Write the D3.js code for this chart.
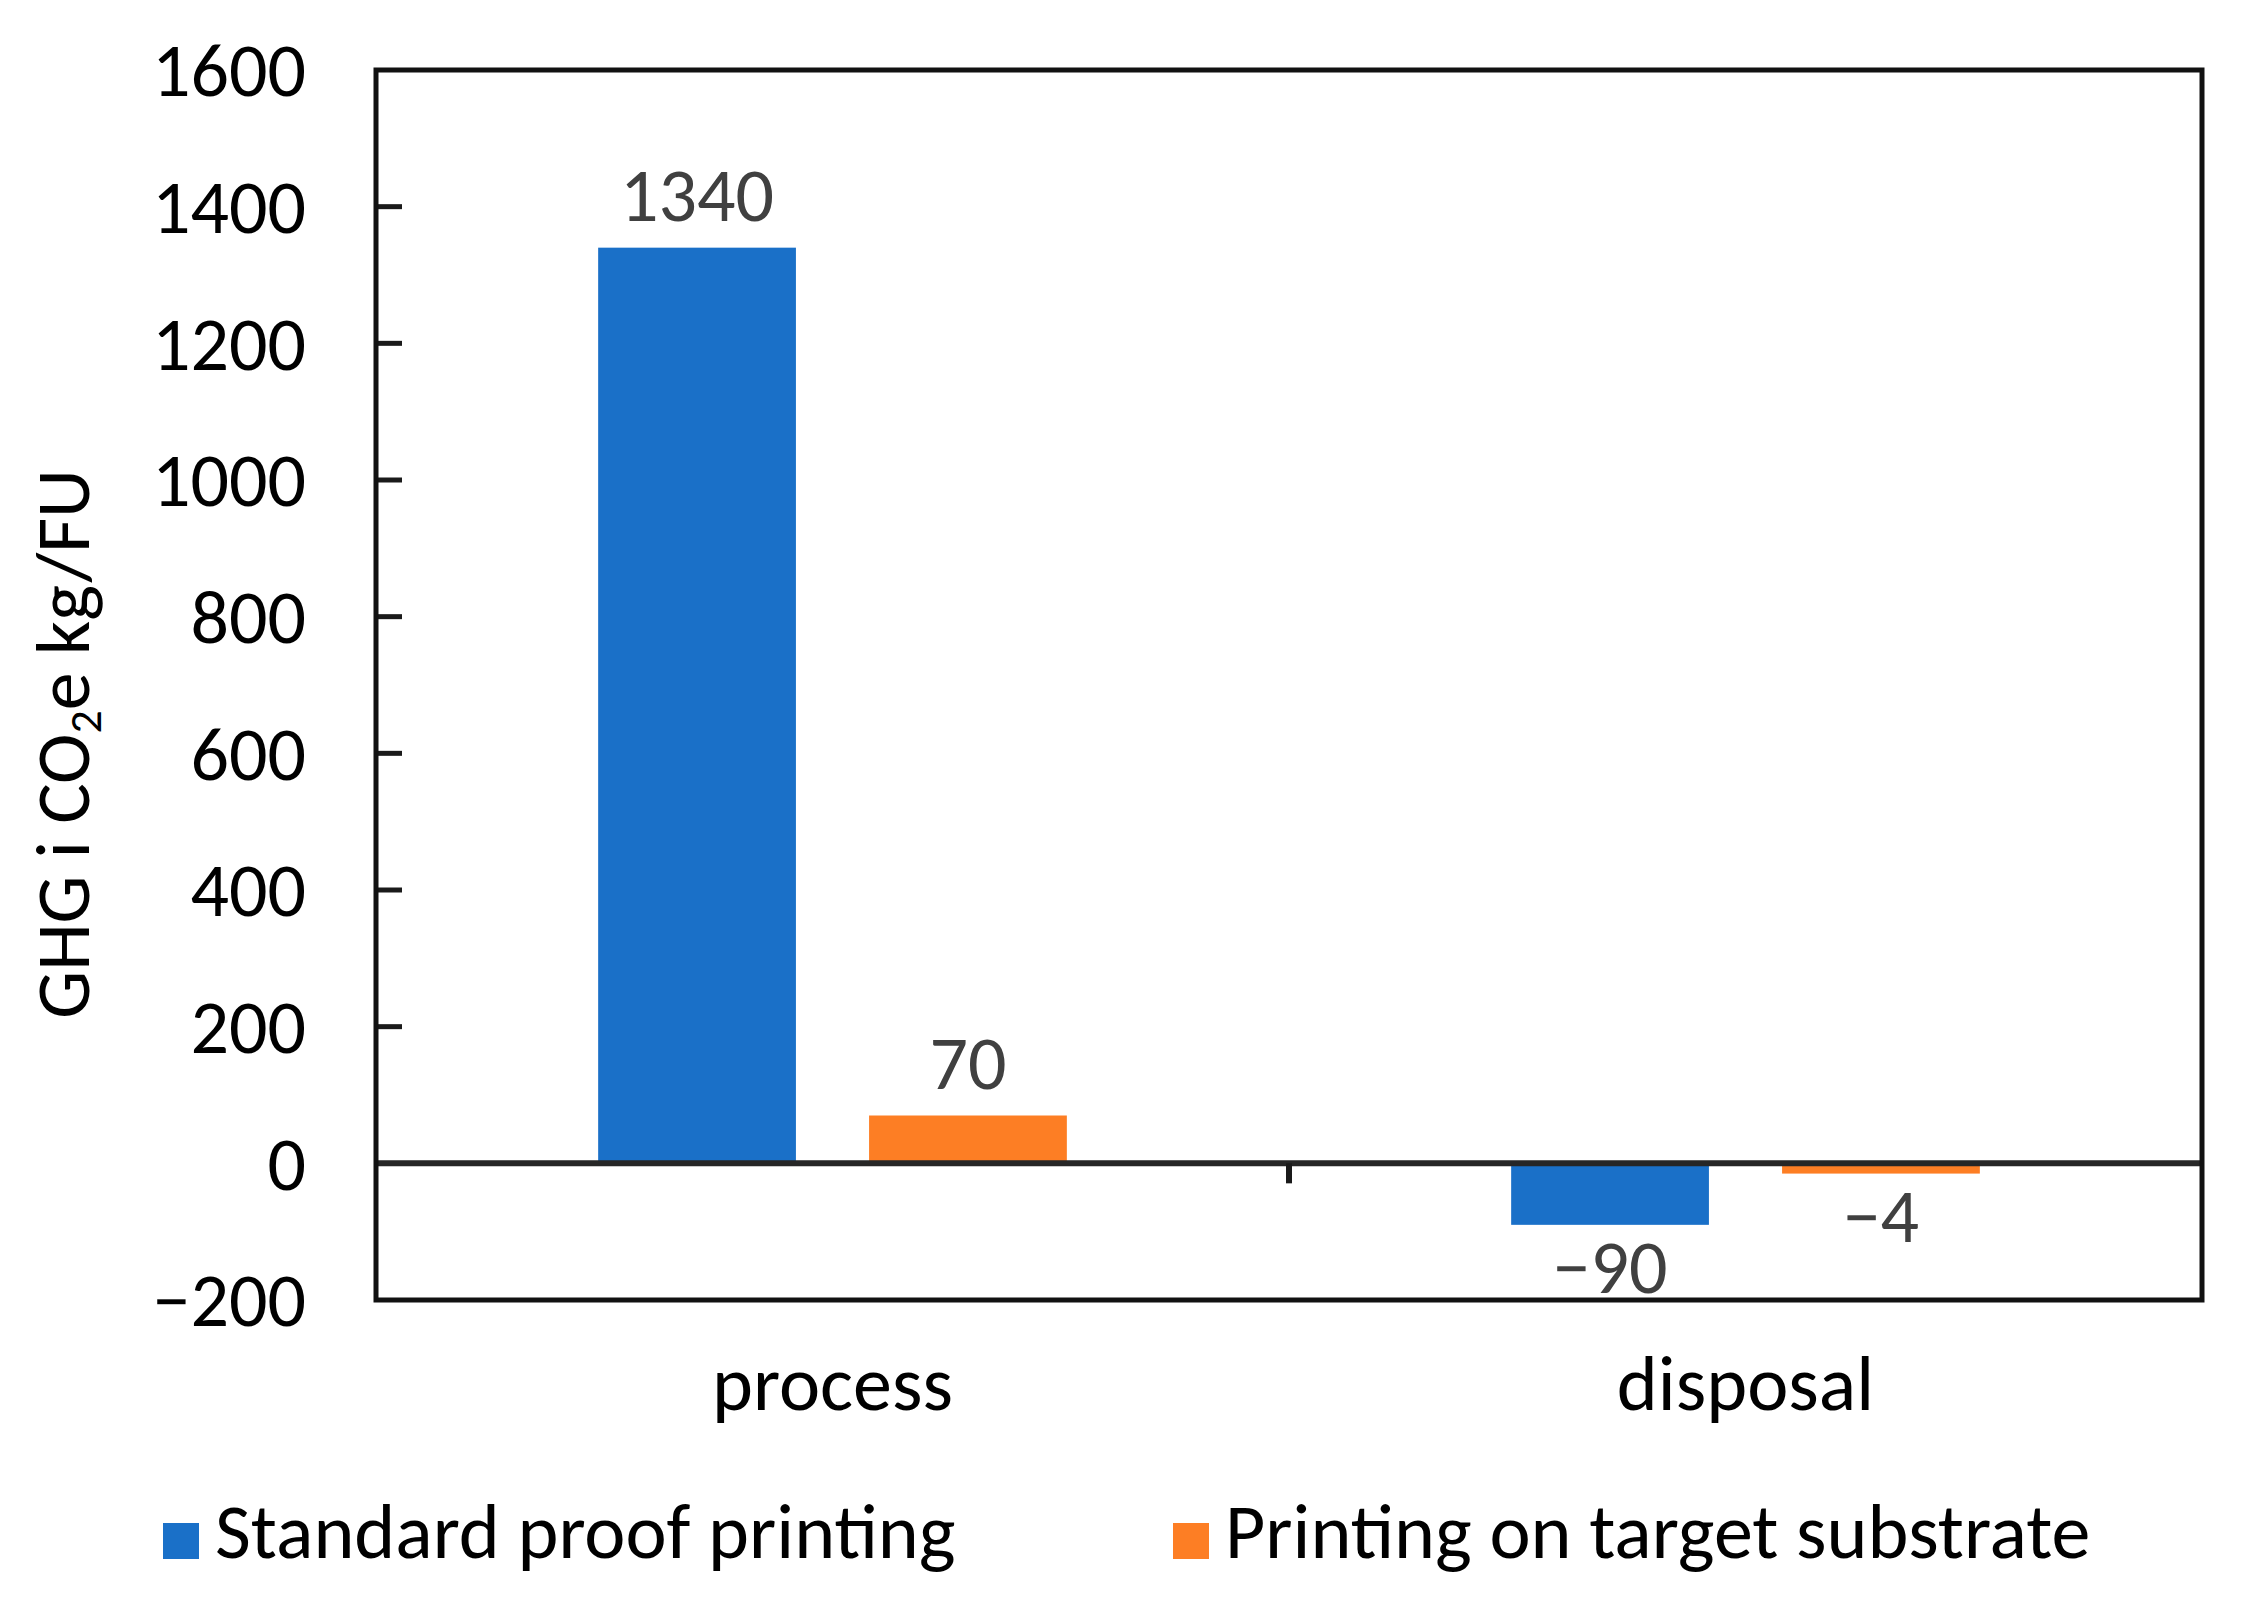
<!DOCTYPE html>
<html>
<head>
<meta charset="utf-8">
<script src="https://cdn.jsdelivr.net/npm/d3@7"></script>
<style>
  body { margin: 0; background: #fff; }
  text { font-family: Carlito, "Liberation Sans Narrow", "Open Sans", sans-serif; }
</style>
</head>
<body>
<div id="chart"></div>
<script>
// Data
var categories = ["process", "disposal"];
var seriesNames = ["Standard proof printing", "Printing on target substrate"];
var standardValues = [1340, -90];
var targetValues = [70, -15];          // bar heights as drawn
var standardLabels = ["1340", "\u221290"];
var targetLabels = ["70", "\u22124"];
var yTicks = [-200, 0, 200, 400, 600, 800, 1000, 1200, 1400, 1600];
var seriesColors = ["#1a70c8", "#fd7e24"];

var width = 2243, height = 1615;
var plot = {left: 376, right: 2202, top: 70, bottom: 1300};

var svg = d3.select("#chart").append("svg")
    .attr("width", width)
    .attr("height", height);

// Scales
var y = d3.scaleLinear()
    .domain([-200, 1600])
    .range([plot.bottom, plot.top]);

var x0 = d3.scaleBand()
    .domain(categories)
    .range([plot.left, plot.right])
    .padding(0);

var x1 = d3.scaleBand()
    .domain(seriesNames)
    .range([0, x0.bandwidth()])
    .paddingInner(0.27)
    .paddingOuter(0.82);

var color = d3.scaleOrdinal().domain(seriesNames).range(seriesColors);

// build rows for the bars
var rows = [];
categories.forEach(function(c, i) {
  rows.push({cat: c, series: seriesNames[0], value: standardValues[i], label: standardLabels[i]});
  rows.push({cat: c, series: seriesNames[1], value: targetValues[i], label: targetLabels[i]});
});

// Bars
svg.append("g").selectAll("rect")
  .data(rows)
  .enter().append("rect")
    .attr("x", function(d) { return x0(d.cat) + x1(d.series); })
    .attr("y", function(d) { return y(Math.max(0, d.value)); })
    .attr("width", x1.bandwidth())
    .attr("height", function(d) { return Math.abs(y(d.value) - y(0)); })
    .attr("fill", function(d) { return color(d.series); });

// Value labels
svg.append("g").selectAll("text")
  .data(rows)
  .enter().append("text")
    .attr("x", function(d) { return x0(d.cat) + x1(d.series) + x1.bandwidth() / 2; })
    .attr("y", function(d) { return d.value >= 0 ? y(d.value) - 27 : y(d.value) + 68; })
    .attr("text-anchor", "middle")
    .attr("font-size", 76)
    .attr("fill", "#404040")
    .text(function(d) { return d.label; });

// Y axis: inward ticks on the left border
var yAxis = d3.axisLeft(y)
    .tickValues(yTicks)
    .tickFormat(d3.format("d"))
    .tickSize(0)
    .tickPadding(70);

var yg = svg.append("g")
    .attr("transform", "translate(" + plot.left + ",0)")
    .call(yAxis);
yg.select(".domain").remove();
yg.selectAll("text")
    .attr("font-size", 76)
    .attr("fill", "#000")
    .attr("dy", "0.34em");

svg.append("g").selectAll("line")
  .data(yTicks.filter(function(t) { return t > 0 && t < 1600; }))
  .enter().append("line")
    .attr("x1", plot.left)
    .attr("x2", plot.left + 26)
    .attr("y1", function(d) { return y(d); })
    .attr("y2", function(d) { return y(d); })
    .attr("stroke", "#1a1a1a")
    .attr("stroke-width", 5);

// Zero line with category divider tick
svg.append("line")
    .attr("x1", plot.left).attr("x2", plot.right)
    .attr("y1", y(0)).attr("y2", y(0))
    .attr("stroke", "#262626")
    .attr("stroke-width", 6);

svg.append("g").selectAll("line")
  .data(categories.slice(1))
  .enter().append("line")
    .attr("x1", function(d) { return x0(d); })
    .attr("x2", function(d) { return x0(d); })
    .attr("y1", y(0))
    .attr("y2", y(0) + 20)
    .attr("stroke", "#1a1a1a")
    .attr("stroke-width", 6);

// Plot border
svg.append("rect")
    .attr("x", plot.left)
    .attr("y", y(1600))
    .attr("width", plot.right - plot.left)
    .attr("height", y(-200) - y(1600))
    .attr("fill", "none")
    .attr("stroke", "#111")
    .attr("stroke-width", 5);

// Category labels
svg.append("g").selectAll("text")
  .data(categories)
  .enter().append("text")
    .attr("x", function(d) { return x0(d) + x0.bandwidth() / 2; })
    .attr("y", 1410)
    .attr("text-anchor", "middle")
    .attr("font-size", 78)
    .attr("fill", "#000")
    .text(function(d) { return d; });

// Y axis title
var ytitle = svg.append("text")
    .attr("transform", "translate(89,744) rotate(-90)")
    .attr("text-anchor", "middle")
    .attr("font-size", 76)
    .attr("fill", "#000");
ytitle.append("tspan").text("GHG i CO");
ytitle.append("tspan").attr("font-size", 46).attr("dy", 12).text("2");
ytitle.append("tspan").attr("dy", -12).text("e kg/FU");

// Legend
var legendX = [163, 1173];
var legend = svg.append("g").selectAll("g")
  .data(seriesNames)
  .enter().append("g")
    .attr("transform", function(d, i) { return "translate(" + legendX[i] + ",0)"; });

legend.append("rect")
    .attr("x", 0)
    .attr("y", 1523)
    .attr("width", 36)
    .attr("height", 36)
    .attr("fill", function(d) { return color(d); });

legend.append("text")
    .attr("x", 52)
    .attr("y", 1558)
    .attr("font-size", 78)
    .attr("fill", "#000")
    .text(function(d) { return d; });
</script>
</body>
</html>
